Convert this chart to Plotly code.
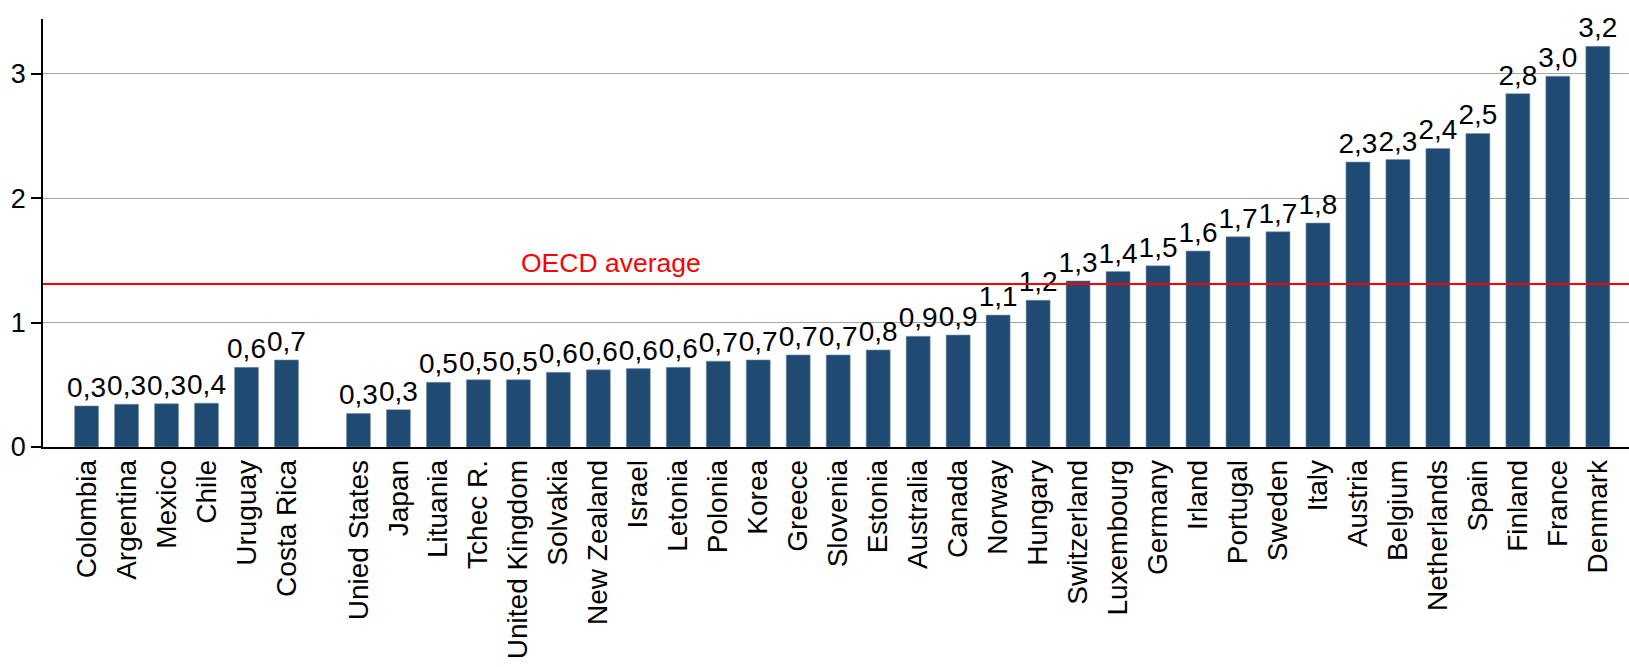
import plotly.graph_objects as go

# ---- data ----
latam_countries = ["Colombia", "Argentina", "Mexico", "Chile", "Uruguay", "Costa Rica"]
latam_values = [0.33, 0.344, 0.348, 0.352, 0.64, 0.70]

oecd_countries = ["Unied States", "Japan", "Lituania", "Tchec R.", "United Kingdom", "Solvakia",
                  "New Zealand", "Israel", "Letonia", "Polonia", "Korea", "Greece", "Slovenia",
                  "Estonia", "Australia", "Canada", "Norway", "Hungary", "Switzerland",
                  "Luxembourg", "Germany", "Irland", "Portugal", "Sweden", "Italy", "Austria",
                  "Belgium", "Netherlands", "Spain", "Finland", "France", "Denmark"]
oecd_values = [0.27, 0.30, 0.52, 0.54, 0.54, 0.60, 0.62, 0.63, 0.64, 0.69, 0.70, 0.74, 0.74,
               0.78, 0.89, 0.90, 1.06, 1.18, 1.335, 1.41, 1.456, 1.575, 1.69, 1.73, 1.80, 2.29,
               2.31, 2.40, 2.52, 2.84, 2.98, 3.22]

oecd_average = 1.31
y_ticks = [0, 1, 2, 3]

# ---- layout helpers ----
GROUP_GAP = 1.8  # distance (in slots) between last LatAm bar and first OECD bar
countries = latam_countries + oecd_countries
values = latam_values + oecd_values
positions = list(range(len(latam_countries))) + [
    len(latam_countries) - 1 + GROUP_GAP + j for j in range(len(oecd_countries))]
labels = [f"{v:.1f}".replace(".", ",") for v in values]

FONT = "Liberation Sans, Arial, sans-serif"
BAR_COLOR = "#1F4A72"

fig = go.Figure()
fig.add_trace(go.Bar(
    x=positions, y=values, width=0.6,
    marker=dict(color=BAR_COLOR, line=dict(color="#7F97B2", width=0.6)),
    text=labels, textposition="outside", constraintext="none", cliponaxis=False,
    textfont=dict(family=FONT, size=28, color="black"),
    hoverinfo="skip",
))

fig.add_shape(type="line", xref="paper", x0=0, x1=1, yref="y", y0=oecd_average, y1=oecd_average,
              line=dict(color="#FF0000", width=2.2), layer="above")
fig.add_annotation(xref="paper", x=0.358, yref="y", y=oecd_average, yanchor="bottom",
                   text="OECD average", showarrow=False, yshift=4,
                   font=dict(family=FONT, size=26.5, color="#FF0000"))

fig.update_layout(
    width=1629, height=667,
    margin=dict(l=43, r=0, t=19, b=220),
    paper_bgcolor="white", plot_bgcolor="white",
    showlegend=False,
    font=dict(family=FONT, color="black"),
    bargap=0.4,
)
fig.update_xaxes(
    range=[-1.09, positions[-1] + 0.78],
    tickvals=positions, ticktext=countries, tickangle=-90,
    tickfont=dict(family=FONT, size=28, color="black"),
    showline=True, linecolor="black", linewidth=1.5,
    showgrid=False, zeroline=False, ticks="", automargin=False,
)
fig.update_yaxes(
    range=[0, 3.44], tickvals=y_ticks, ticktext=[str(t) for t in y_ticks],
    tickfont=dict(family=FONT, size=27, color="black"),
    showline=True, linecolor="black", linewidth=1.5,
    ticks="outside", ticklen=10, tickcolor="black", tickwidth=1.5,
    showgrid=True, gridcolor="#A6A6A6", gridwidth=1.2, zeroline=False, automargin=False,
)

fig.write_html("out.html", config={"displayModeBar": False},
               post_script="document.body.style.margin='0px';document.body.style.overflow='hidden';")
